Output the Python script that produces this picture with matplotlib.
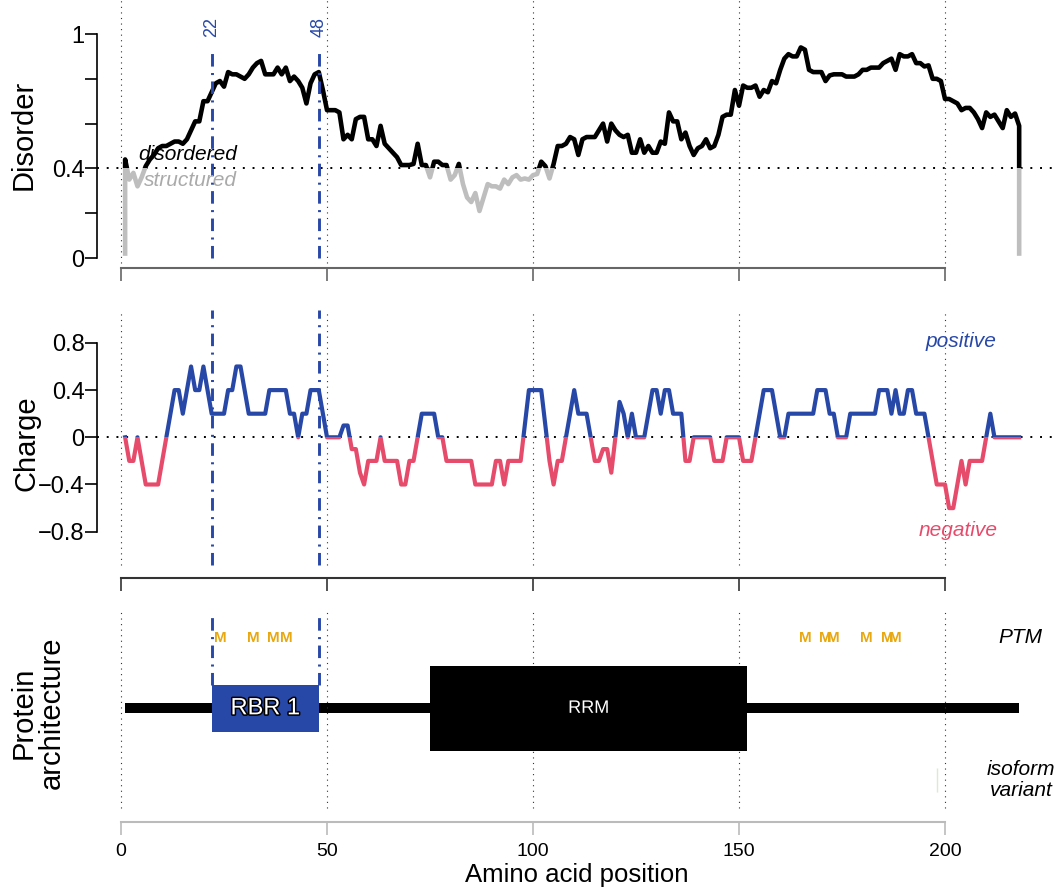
import matplotlib.pyplot as plt
from matplotlib.patches import Rectangle
import matplotlib.patheffects as pe

plt.rcParams['font.family'] = ['Liberation Sans', 'DejaVu Sans']

# predicted disorder score per residue (1..218)
disorder = [
    0.44, 0.35, 0.38, 0.32, 0.36, 0.41, 0.44, 0.46, 0.49, 0.50,
    0.50, 0.51, 0.52, 0.52, 0.51, 0.53, 0.57, 0.61, 0.61, 0.70,
    0.70, 0.74, 0.78, 0.79, 0.765, 0.83, 0.82, 0.82, 0.81, 0.80,
    0.82, 0.85, 0.87, 0.88, 0.82, 0.82, 0.82, 0.85, 0.82, 0.85,
    0.79, 0.81, 0.79, 0.76, 0.69, 0.78, 0.82, 0.83, 0.75, 0.66,
    0.66, 0.66, 0.65, 0.53, 0.55, 0.53, 0.62, 0.63, 0.63, 0.53,
    0.53, 0.50, 0.59, 0.51, 0.49, 0.47, 0.45, 0.415, 0.415, 0.415,
    0.42, 0.51, 0.415, 0.415, 0.36, 0.43, 0.43, 0.415, 0.415, 0.35,
    0.37, 0.42, 0.33, 0.27, 0.25, 0.29, 0.21, 0.27, 0.33, 0.32,
    0.32, 0.31, 0.35, 0.33, 0.36, 0.37, 0.35, 0.355, 0.35, 0.37,
    0.375, 0.43, 0.41, 0.355, 0.42, 0.50, 0.50, 0.51, 0.54, 0.53,
    0.46, 0.53, 0.54, 0.54, 0.54, 0.57, 0.60, 0.52, 0.60, 0.57,
    0.55, 0.54, 0.55, 0.47, 0.47, 0.53, 0.47, 0.50, 0.47, 0.47,
    0.52, 0.51, 0.65, 0.61, 0.61, 0.53, 0.56, 0.50, 0.46, 0.49,
    0.50, 0.53, 0.49, 0.50, 0.55, 0.63, 0.64, 0.64, 0.75, 0.68,
    0.77, 0.76, 0.76, 0.77, 0.72, 0.75, 0.74, 0.79, 0.78, 0.84,
    0.89, 0.91, 0.90, 0.90, 0.94, 0.93, 0.84, 0.83, 0.83, 0.83,
    0.79, 0.815, 0.82, 0.82, 0.82, 0.81, 0.81, 0.81, 0.82, 0.84,
    0.84, 0.85, 0.85, 0.85, 0.87, 0.88, 0.89, 0.84, 0.91, 0.90,
    0.90, 0.91, 0.87, 0.87, 0.855, 0.86, 0.80, 0.80, 0.79, 0.71,
    0.71, 0.70, 0.69, 0.66, 0.67, 0.67, 0.65, 0.62, 0.58, 0.65,
    0.63, 0.64, 0.61, 0.58, 0.66, 0.63, 0.645, 0.59,
]
disorder_end = 0.02      # value the curve drops to at both termini
disorder_cutoff = 0.4

# windowed net charge per residue
charge = [
    0, -0.2, -0.2, 0, -0.2, -0.4, -0.4, -0.4, -0.4, -0.2,
    0, 0.2, 0.4, 0.4, 0.2, 0.4, 0.6, 0.4, 0.4, 0.6,
    0.4, 0.2, 0.2, 0.2, 0.2, 0.4, 0.4, 0.6, 0.6, 0.4,
    0.2, 0.2, 0.2, 0.2, 0.2, 0.4, 0.4, 0.4, 0.4, 0.4,
    0.2, 0.2, 0, 0.2, 0.2, 0.4, 0.4, 0.4, 0.2, 0,
    0, 0, 0, 0.1, 0.1, -0.1, -0.1, -0.3, -0.4, -0.2,
    -0.2, -0.2, 0, -0.2, -0.2, -0.2, -0.2, -0.4, -0.4, -0.2,
    -0.2, 0, 0.2, 0.2, 0.2, 0.2, 0, 0, -0.2, -0.2,
    -0.2, -0.2, -0.2, -0.2, -0.2, -0.4, -0.4, -0.4, -0.4, -0.4,
    -0.2, -0.2, -0.4, -0.2, -0.2, -0.2, -0.2, 0.1, 0.4, 0.4,
    0.4, 0.4, 0.1, -0.2, -0.4, -0.2, -0.2, 0, 0.2, 0.4,
    0.2, 0.2, 0.2, 0, -0.2, -0.2, -0.1, -0.1, -0.3, 0,
    0.3, 0.2, 0, 0.2, 0, 0, 0, 0.2, 0.4, 0.4,
    0.2, 0.4, 0.4, 0.2, 0.2, 0.2, -0.2, -0.2, 0, 0,
    0, 0, 0, -0.2, -0.2, -0.2, 0, 0, 0, 0,
    -0.2, -0.2, -0.2, 0, 0.2, 0.4, 0.4, 0.4, 0.2, 0,
    0, 0.2, 0.2, 0.2, 0.2, 0.2, 0.2, 0.2, 0.4, 0.4,
    0.4, 0.2, 0.2, 0, 0, 0, 0.2, 0.2, 0.2, 0.2,
    0.2, 0.2, 0.2, 0.4, 0.4, 0.4, 0.2, 0.4, 0.2, 0.2,
    0.4, 0.4, 0.2, 0.2, 0.2, 0, -0.2, -0.4, -0.4, -0.4,
    -0.6, -0.6, -0.4, -0.2, -0.4, -0.2, -0.2, -0.2, -0.2, 0,
    0.2, 0, 0, 0, 0, 0, 0, 0,
]

# domain architecture
domain_names = ["RBR 1", "RRM"]
domain_start = [22, 75]
domain_end = [48, 152]
domain_colors = ["#2848a8", "black"]
domain_half = [0.105, 0.19]
domain_fontsize = [17, 13]

ptm_sites = [24, 32, 37, 40, 166, 171, 173, 181, 186, 188]
isoform_sites = [198]

x_ticks = [0, 50, 100, 150, 200]

BLUE = "#2848a8"
RED = "#e64b6b"
ORANGE = "#e8a812"
GREY = "#bebebe"

n = len(disorder)
residues = list(range(1, n + 1))

W, H = 1056, 888
fig = plt.figure(figsize=(W / 100, H / 100), dpi=100)


def box(left, top, right, bottom):
    return [left / W, 1 - bottom / H, (right - left) / W, (bottom - top) / H]


XLIM = (-5.83, 226.94)
DOTS = (0, (1, 4))
DASHDOT = (0, (4.3, 2.2, 0.7, 2.2))
region = (domain_start[0], domain_end[0])


def base_axes(ax, ylim, ybounds, axis_color):
    ax.set_xlim(*XLIM)
    ax.set_ylim(*ylim)
    for s in ("top", "right"):
        ax.spines[s].set_visible(False)
    ax.spines["left"].set_bounds(*ybounds)
    ax.spines["left"].set_linewidth(1.2)
    ax.spines["bottom"].set_bounds(x_ticks[0], x_ticks[-1])
    ax.spines["bottom"].set_color(axis_color)
    ax.spines["bottom"].set_linewidth(1.5)
    ax.set_xticks(x_ticks)
    ax.tick_params(axis="x", direction="out", length=9, width=1.2, color=axis_color)
    ax.tick_params(axis="y", direction="out", length=9, width=1.2, pad=0, labelsize=17)


# ---- disorder panel ----
ax1 = fig.add_axes(box(97, 0, 1056, 268))
base_axes(ax1, (-0.0446, 1.1518), (0, 1), "#666666")
ax1.set_yticks([0, 0.2, 0.4, 0.6, 0.8, 1.0])
ax1.set_yticklabels(["0", "", "0.4", "", "", "1"])
ax1.tick_params(axis="x", labelbottom=False)
ax1.vlines(x_ticks, -0.022, 1.15, colors="#333333", linestyles=DOTS, lw=0.8)
ax1.axhline(disorder_cutoff, color="black", ls=DOTS, lw=1.4)

dx = [residues[0]] + residues + [residues[-1]]
dy = [disorder_end] + disorder + [disorder_end]
low = ax1.plot(dx, dy, color=GREY, lw=3.3, solid_joinstyle="round")[0]
high = ax1.plot(dx, dy, color="black", lw=3.3, solid_joinstyle="round")[0]
low.set_clip_path(Rectangle((XLIM[0], -1), 300, 1 + disorder_cutoff, transform=ax1.transData))
high.set_clip_path(Rectangle((XLIM[0], disorder_cutoff), 300, 2, transform=ax1.transData))

ax1.vlines(region, 0, 0.92, colors=BLUE, linestyles=DASHDOT, lw=2.1)
for b in region:
    ax1.text(b, 0.985, str(b), color=BLUE, rotation=90, ha="center", va="bottom", fontsize=13)
ax1.text(28.1, 0.46, "disordered", style="italic", color="black", ha="right", va="center", fontsize=15)
ax1.text(28.1, 0.348, "structured", style="italic", color="#aaaaaa", ha="right", va="center", fontsize=15)

# ---- charge panel ----
ax2 = fig.add_axes(box(97, 300, 1056, 578))
base_axes(ax2, (-1.1924, 1.1636), (-0.8, 0.8), "#333333")
ax2.set_yticks([-0.8, -0.4, 0, 0.4, 0.8])
ax2.set_yticklabels(["\u22120.8", "\u22120.4", "0", "0.4", "0.8"])
ax2.tick_params(axis="x", labelbottom=False)
ax2.vlines(x_ticks, -1.082, 1.062, colors="#333333", linestyles=DOTS, lw=0.8)
ax2.axhline(0, color="black", ls=DOTS, lw=1.4)

neg = ax2.plot(residues, charge, color=RED, lw=3)[0]
pos = ax2.plot(residues, charge, color=BLUE, lw=3)[0]
neg.set_clip_path(Rectangle((XLIM[0], -2), 300, 2, transform=ax2.transData))
pos.set_clip_path(Rectangle((XLIM[0], 0), 300, 2, transform=ax2.transData))

ax2.vlines(region, -1.082, 1.08, colors=BLUE, linestyles=DASHDOT, lw=2.1)
ax2.text(203.8, 0.816, "positive", style="italic", color=BLUE, ha="center", va="center", fontsize=15)
ax2.text(203.2, -0.794, "negative", style="italic", color=RED, ha="center", va="center", fontsize=15)

# ---- protein architecture panel ----
ax3 = fig.add_axes(box(97, 600, 1056, 822))
base_axes(ax3, (0, 1), (0, 1), "#bbbbbb")
ax3.spines["left"].set_visible(False)
ax3.set_yticks([])
ax3.tick_params(axis="x", labelsize=14, pad=6, labelcolor="black")
ax3.vlines(x_ticks, 0.063, 0.946, colors="#333333", linestyles=DOTS, lw=0.8)
ax3.vlines(region, 0.617, 0.932, colors=BLUE, linestyles=DASHDOT, lw=2.1)

ax3.add_patch(Rectangle((residues[0], 0.491), residues[-1] - residues[0], 0.045,
                        facecolor="black", edgecolor="none"))
for name, s, e, c, h, fs in zip(domain_names, domain_start, domain_end,
                                domain_colors, domain_half, domain_fontsize):
    ax3.add_patch(Rectangle((s, 0.512 - h), e - s, 2 * h, facecolor=c, edgecolor="none", zorder=3))
    ax3.text((s + e) / 2, 0.512, name, color="white", ha="center", va="center", fontsize=fs,
             zorder=4, path_effects=[pe.withStroke(linewidth=2.2, foreground="black")])

# modification sites; neighbouring sites sit close enough that their letters touch
for p in ptm_sites:
    ax3.text(p, 0.829, "M", color=ORANGE, fontsize=11, fontweight="bold", ha="center", va="center")
ax3.vlines(isoform_sites, 0.135, 0.243, colors="#dde8d5", lw=1)

ax3.text(218.2, 0.829, "PTM", style="italic", ha="center", va="center", fontsize=15)
ax3.text(218.4, 0.189, "isoform\nvariant", style="italic", ha="center", va="center",
         fontsize=15, linespacing=1.15)
ax3.set_xlabel("Amino acid position", fontsize=18.5, labelpad=2)

# panel titles
fig.text(24 / W, 1 - 134.5 / H, "Disorder", rotation=90, ha="center", va="center", fontsize=21)
fig.text(27 / W, 1 - 443 / H, "Charge", rotation=90, ha="center", va="center", fontsize=21)
fig.text(38 / W, 1 - 713 / H, "Protein\narchitecture", rotation=90, ha="center", va="center",
         fontsize=21, linespacing=1.0)

fig.savefig("out.png", dpi=100)
